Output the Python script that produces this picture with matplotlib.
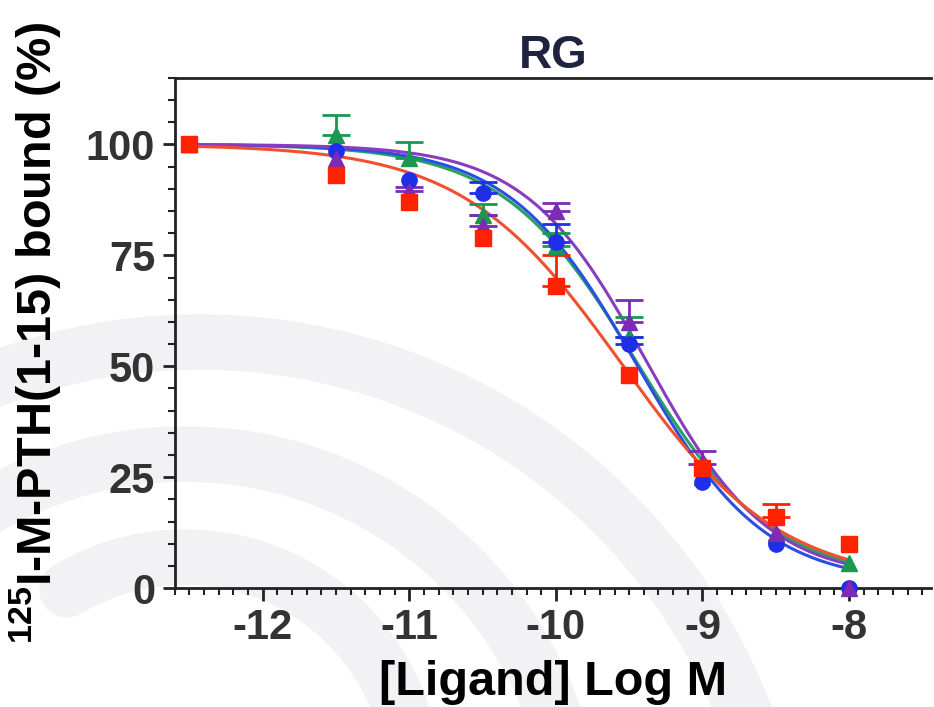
import numpy as np
import matplotlib
matplotlib.use('Agg')
import matplotlib.pyplot as plt
from matplotlib.patches import Arc

plt.rcParams['font.family'] = ['Liberation Sans', 'DejaVu Sans']
plt.rcParams['axes.unicode_minus'] = False
plt.rcParams['mathtext.fontset'] = 'custom'
plt.rcParams['mathtext.rm'] = 'Liberation Sans'
plt.rcParams['mathtext.bf'] = 'Liberation Sans:bold'

# log concentrations
log_conc = [-12.5, -11.5, -11.0, -10.5, -10.0, -9.5, -9.0, -8.5, -8.0]

# % bound per ligand, upper error bars
red_y = [100, 93, 87, 79, 68, 48, 27, 16, 10]
red_err = [0, 0, 0, 0, 7, 0, 0, 3, 0]
green_y = [100, 102, 97, 84, 77, 56.5, 25, 12, 5.6]
green_err = [0, 4.5, 3.5, 2.5, 3, 4.5, 0, 0, 0]
blue_y = [100, 98.5, 92, 89, 78, 55, 24, 10, 0]
blue_err = [0, 0, 0, 2.5, 4, 1.5, 0, 0, 0]
purple_y = [100, 96.6, 89.5, 81.5, 85, 60, 28, 12.4, 0]
purple_err = [0, 0, 1, 2.5, 1.7, 5, 3, 0, 0]

# 4PL fit parameters: top, bottom, logIC50, slope
fits = {
    'red': (100, 1, -9.55, 0.8),
    'green': (100, 2, -9.45, 0.95),
    'blue': (100, 1, -9.45, 1.0),
    'purple': (100, 2, -9.38, 1.05),
}

series = [
    ('green', green_y, green_err, '^', '#1a9850', '#2aa060'),
    ('blue', blue_y, blue_err, 'o', '#1f2ee8', '#2a50e0'),
    ('purple', purple_y, purple_err, '^', '#7b2bb5', '#8a3cc0'),
    ('red', red_y, red_err, 's', '#ff2200', '#f05030'),
]

fig = plt.figure(figsize=(9.34, 7.07), dpi=100)

# faint watermark arcs behind the plot (pixel coords, y up)
bg = fig.add_axes([0, 0, 1, 1], zorder=-5)
bg.set_xlim(0, 934)
bg.set_ylim(0, 707)
bg.axis('off')
wm = [((200, -220), 585, -20, 180), ((185, -138), 391, -20, 180),
      ((185, -79), 229, -20, 121)]
for c, r, t1, t2 in wm:
    a = Arc(c, 2 * r, 2 * r, theta1=t1, theta2=t2, lw=40, color='#f2f2f5')
    a.set_capstyle('round')
    bg.add_patch(a)

ax = fig.add_axes([0.187, 0.168, 0.81, 0.722])
ax.set_facecolor('none')

xs = np.linspace(-12.5, -8.0, 300)
for name, y, err, mk, mcol, lcol in series:
    top, bot, ic50, h = fits[name]
    curve = bot + (top - bot) / (1 + 10 ** ((xs - ic50) * h))
    ax.plot(xs, curve, color=lcol, lw=2.2, zorder=2)

for name, y, err, mk, mcol, lcol in series:
    y = np.array(y, dtype=float)
    err = np.array(err, dtype=float)
    has = err > 0
    x = np.array(log_conc)
    ax.errorbar(x[has], y[has], yerr=[np.zeros(has.sum()), err[has]], fmt='none',
                ecolor=mcol, elinewidth=2, capsize=10, capthick=2, zorder=3)
    ax.plot(x, y, mk, color=mcol, ms=11, zorder=4, clip_on=False)

ax.set_xlim(-12.6, -7.44)
ax.set_ylim(0, 115)
ax.set_xticks([-12, -11, -10, -9, -8])
ax.set_xticks(np.arange(-12.6, -7.4, 0.1), minor=True)
ax.set_yticks([0, 25, 50, 75, 100])
ax.set_yticks(np.arange(0, 116, 5), minor=True)

for s in ['left', 'bottom', 'top']:
    ax.spines[s].set_linewidth(2)
    ax.spines[s].set_color('#222222')
ax.spines['right'].set_visible(False)

ax.tick_params(axis='both', which='major', length=9, width=2,
               labelsize=30, labelcolor='#333333', color='#222222', pad=5)
ax.tick_params(axis='both', which='minor', length=5, width=1.5, color='#222222')
for lbl in ax.get_xticklabels() + ax.get_yticklabels():
    lbl.set_fontweight('bold')

ax.set_xlabel('[Ligand] Log M', fontsize=35, fontweight='bold', labelpad=9)
ax.set_ylabel(r'$\mathbf{^{125}}$I-M-PTH(1-15) bound (%)', fontsize=35,
              fontweight='bold')
ax.yaxis.set_label_coords(-0.147, 0.5)
ax.set_title('RG', fontsize=33, fontweight='bold', color='#1f2340', pad=5)

fig.savefig('out.png', dpi=100)
